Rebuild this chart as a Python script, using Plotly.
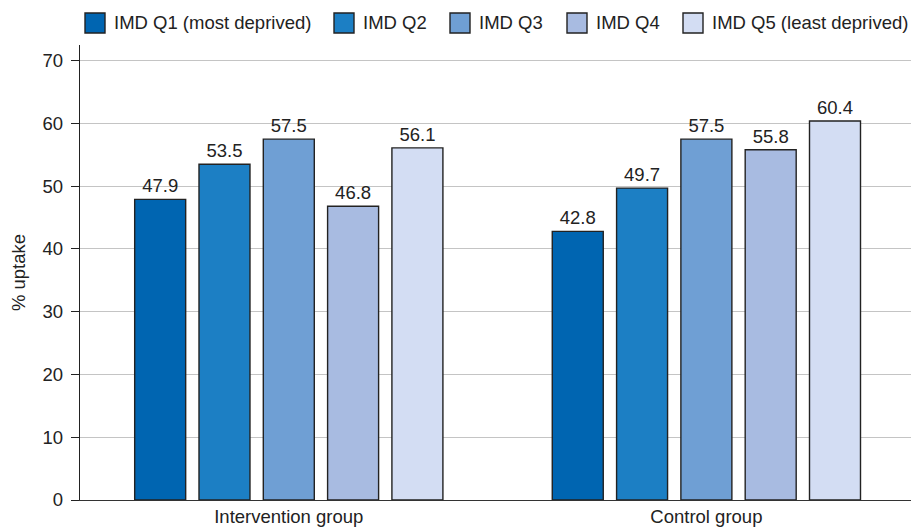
import plotly.graph_objects as go

# Uptake (%) by IMD quintile in each study arm
groups = ["Intervention group", "Control group"]
quintiles = [
    "IMD Q1 (most deprived)",
    "IMD Q2",
    "IMD Q3",
    "IMD Q4",
    "IMD Q5 (least deprived)",
]
uptake_q1 = [47.9, 42.8]
uptake_q2 = [53.5, 49.7]
uptake_q3 = [57.5, 57.5]
uptake_q4 = [46.8, 55.8]
uptake_q5 = [56.1, 60.4]
y_ticks = [0, 10, 20, 30, 40, 50, 60, 70]

series = [uptake_q1, uptake_q2, uptake_q3, uptake_q4, uptake_q5]
colors = ["#0065B1", "#1C7FC4", "#6F9FD4", "#A8BBE1", "#D3DDF3"]

FONT = "Liberation Sans, Arial, Helvetica, sans-serif"
FS = 18.5
W, H = 911, 529
ML, MR, MT, MB = 80, 0, 45, 29
PW, PH = W - ML - MR, H - MT - MB

fig = go.Figure()
for name, vals, col in zip(quintiles, series, colors):
    fig.add_trace(go.Bar(
        x=groups, y=vals, name=name,
        marker=dict(color=col, line=dict(color="#222222", width=1.4)),
        text=vals, texttemplate="%{y:.1f}", textposition="outside",
        textfont=dict(family=FONT, size=FS, color="#222222"),
        cliponaxis=False, showlegend=False,
    ))

# Legend drawn as swatches + labels across the top
def px_x(p):
    return (p - ML) / PW

def px_y(p):
    return (H - MB - p) / PH

swatch_left = [85, 334, 450, 567, 683]
shapes, annotations = [], []
for left, name, col in zip(swatch_left, quintiles, colors):
    shapes.append(dict(
        type="rect", xref="paper", yref="paper",
        x0=px_x(left), x1=px_x(left + 20), y0=px_y(33), y1=px_y(13),
        fillcolor=col, line=dict(color="#222222", width=1.4), layer="above",
    ))
    annotations.append(dict(
        text=name, xref="paper", yref="paper",
        x=px_x(left + 27), y=px_y(23), xanchor="left", yanchor="middle",
        showarrow=False, font=dict(family=FONT, size=FS, color="#222222"),
    ))

fig.update_layout(
    width=W, height=H,
    margin=dict(l=ML, r=MR, t=MT, b=MB),
    paper_bgcolor="white", plot_bgcolor="white",
    barmode="group", bargap=0.23, bargroupgap=0.207,
    font=dict(family=FONT, size=FS, color="#222222"),
    shapes=shapes, annotations=annotations,
    xaxis=dict(
        range=[-0.5, 1.49], showgrid=False, ticks="",
        showline=True, linecolor="#333333", linewidth=1.3,
        tickfont=dict(family=FONT, size=FS, color="#222222"),
    ),
    yaxis=dict(
        range=[0, 72.5], tickvals=y_ticks, ticktext=[str(v) for v in y_ticks],
        showgrid=True, gridcolor="#C4C4C4", gridwidth=1,
        showline=True, linecolor="#222222", linewidth=1.3,
        ticks="outside", ticklen=8, tickcolor="#222222", tickwidth=1.2,
        ticklabelstandoff=4, zeroline=False,
        tickfont=dict(family=FONT, size=FS, color="#222222"),
        title=dict(text="% uptake", standoff=12,
                   font=dict(family=FONT, size=FS, color="#222222")),
    ),
)

fig.write_html("out.html")
